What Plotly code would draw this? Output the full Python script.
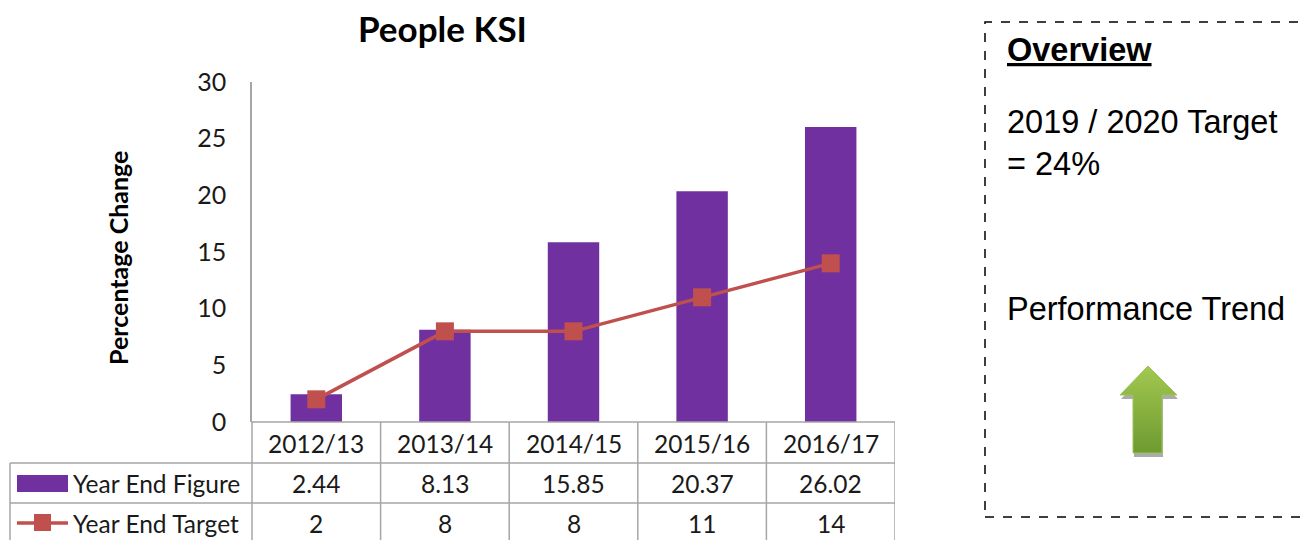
import plotly.graph_objects as go

# ---------------- data ----------------
categories = ["2012/13", "2013/14", "2014/15", "2015/16", "2016/17"]
year_end_figure = [2.44, 8.13, 15.85, 20.37, 26.02]
year_end_target = [2, 8, 8, 11, 14]
figure_labels = ["2.44", "8.13", "15.85", "20.37", "26.02"]
target_labels = ["2", "8", "8", "11", "14"]
y_ticks = [0, 5, 10, 15, 20, 25, 30]
series_names = ["Year End Figure", "Year End Target"]

# ---------------- style ----------------
W, H = 1312, 540
OFF = 8  # page body margin
PURPLE = "#7030A0"
RED = "#C0504D"
GRID = "#a6a6a6"
CAL = "Lato, 'Open Sans', sans-serif"
ARIAL = "'Liberation Sans', Arial, sans-serif"


def px(x):
    return (x - OFF) / W


def py(y):
    return 1 - (y - OFF) / H


fig = go.Figure()
fig.add_trace(go.Bar(x=categories, y=year_end_figure, name=series_names[0],
                     marker=dict(color=PURPLE, line=dict(width=0)), width=0.4))
fig.add_trace(go.Scatter(x=categories, y=year_end_target, name=series_names[1],
                         mode="lines+markers",
                         line=dict(color=RED, width=3.5),
                         marker=dict(symbol="square", size=18, color=RED)))

shapes = []
ann = []
line_style = dict(color=GRID, width=1.5)
# table horizontal lines
shapes.append(dict(type="line", xref="paper", yref="paper", x0=px(252), x1=px(895),
                   y0=py(422), y1=py(422), line=line_style))
for yy in (463, 503):
    shapes.append(dict(type="line", xref="paper", yref="paper", x0=px(10), x1=px(895),
                       y0=py(yy), y1=py(yy), line=line_style))
# table vertical lines
shapes.append(dict(type="line", xref="paper", yref="paper", x0=px(10), x1=px(10),
                   y0=py(463), y1=0, line=line_style))
shapes.append(dict(type="line", xref="paper", yref="paper", x0=px(252), x1=px(252),
                   y0=py(422), y1=0, line=line_style))
for i in range(len(categories)):
    shapes.append(dict(type="line", xref="x", yref="paper", x0=i + 0.5, x1=i + 0.5,
                       y0=py(422), y1=0, line=line_style))

# table text
tfont = dict(family=CAL, size=24.5, color="#1a1a1a")
for i, c in enumerate(categories):
    ann.append(dict(x=c, y=py(443), xref="x", yref="paper", text=c, showarrow=False,
                    font=tfont, xanchor="center", yanchor="middle"))
    ann.append(dict(x=c, y=py(483), xref="x", yref="paper", text=figure_labels[i],
                    showarrow=False, font=tfont, xanchor="center", yanchor="middle"))
    ann.append(dict(x=c, y=py(523), xref="x", yref="paper", text=target_labels[i],
                    showarrow=False, font=tfont, xanchor="center", yanchor="middle"))
for name, yy in zip(series_names, (483, 523)):
    ann.append(dict(x=px(71), y=py(yy), xref="paper", yref="paper", text=name,
                    showarrow=False, font=tfont, xanchor="left", yanchor="middle"))

# legend keys in table
shapes.append(dict(type="rect", xref="paper", yref="paper", x0=px(17), x1=px(68),
                   y0=py(492), y1=py(475), fillcolor=PURPLE, line=dict(width=0)))
shapes.append(dict(type="line", xref="paper", yref="paper", x0=px(17), x1=px(68),
                   y0=py(523), y1=py(523), line=dict(color=RED, width=3.5)))
shapes.append(dict(type="rect", xref="paper", yref="paper", x0=px(34), x1=px(51),
                   y0=py(531), y1=py(514), fillcolor=RED, line=dict(width=0)))

# title & axis title
ann.append(dict(x=px(442), y=py(28), xref="paper", yref="paper", text="<b>People KSI</b>",
                showarrow=False, font=dict(family=CAL, size=35, color="#000"),
                xanchor="center", yanchor="middle"))
ann.append(dict(x=px(118), y=py(258), xref="paper", yref="paper",
                text="<b>Percentage Change</b>", textangle=-90, showarrow=False,
                font=dict(family=CAL, size=25, color="#000"),
                xanchor="center", yanchor="middle"))

# overview box
shapes.append(dict(type="rect", xref="paper", yref="paper", x0=px(985), x1=px(1308),
                   y0=py(517), y1=py(22), line=dict(color="#000", width=1.5, dash="dash"),
                   fillcolor="rgba(0,0,0,0)"))
ofont = dict(family=ARIAL, size=32.5, color="#000")
ann.append(dict(x=px(1005), y=py(50), xref="paper", yref="paper", text="<b><u>Overview</u></b>",
                showarrow=False, font=ofont, xanchor="left", yanchor="middle"))
ann.append(dict(x=px(1005), y=py(143), xref="paper", yref="paper",
                text="2019 / 2020 Target<br>= 24%", showarrow=False, font=ofont,
                xanchor="left", yanchor="middle", align="left"))
ann.append(dict(x=px(1005), y=py(309), xref="paper", yref="paper",
                text="Performance Trend", showarrow=False, font=ofont,
                xanchor="left", yanchor="middle"))


# arrow (decoration) in pixel coordinates on an overlay axis
def arrow_path(dx=0, dy=0):
    pts = [(1148, 366), (1177, 395), (1162, 395), (1162, 453), (1133, 453),
           (1133, 395), (1120, 395)]
    xs = [p[0] + dx - OFF for p in pts]
    ys = [p[1] + dy - OFF for p in pts]
    return xs + [xs[0]], ys + [ys[0]]


sx, sy = arrow_path(1, 4)
fig.add_trace(go.Scatter(x=sx, y=sy, xaxis="x2", yaxis="y2", mode="lines", fill="toself",
                         fillcolor="rgba(150,150,150,0.8)", line=dict(width=0),
                         hoverinfo="skip"))
ax_, ay_ = arrow_path()
fig.add_trace(go.Scatter(x=ax_, y=ay_, xaxis="x2", yaxis="y2", mode="lines", fill="toself",
                         fillgradient=dict(type="vertical",
                                           colorscale=[[0, "#6E9A30"], [1, "#A2C850"]]),
                         line=dict(width=1, color="#9CC45A"), hoverinfo="skip"))

fig.update_layout(
    width=W, height=H, margin=dict(l=0, r=0, t=0, b=0, pad=0, autoexpand=False),
    paper_bgcolor="white", plot_bgcolor="rgba(0,0,0,0)", showlegend=False,
    shapes=shapes, annotations=ann,
    xaxis=dict(domain=[px(252), px(895)], range=[-0.5, 4.5], showticklabels=False,
               showgrid=False, zeroline=False, showline=False, fixedrange=True,
               automargin=False),
    yaxis=dict(domain=[py(422), py(82)], range=[0, 30], tickvals=y_ticks,
               showgrid=False, zeroline=False, showline=True, linecolor=GRID, linewidth=1.5,
               ticks="", ticklabelstandoff=19, automargin=False,
               tickfont=dict(family=CAL, size=25, color="#1a1a1a")),
    xaxis2=dict(domain=[0, 1], range=[0, W], visible=False, anchor="y2", fixedrange=True,
                automargin=False),
    yaxis2=dict(domain=[0, 1], range=[H, 0], visible=False, anchor="x2", fixedrange=True,
                automargin=False),
)

fig.write_html("out.html")
